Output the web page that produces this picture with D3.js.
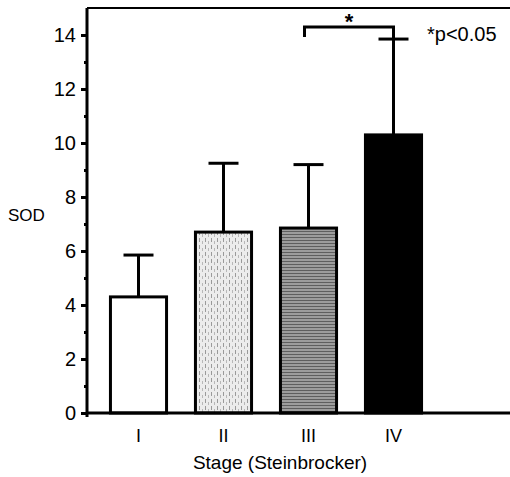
<!DOCTYPE html>
<html>
<head>
<meta charset="utf-8">
<script src="https://cdn.jsdelivr.net/npm/d3@7"></script>
<style>
  body { margin: 0; background: #fff; }
  text { font-family: "Liberation Sans", Arial, sans-serif; fill: #000; }
</style>
</head>
<body>
<div id="chart"></div>
<script>
// data
const stages = ['I', 'II', 'III', 'IV']
const sodMean = [4.3, 6.7, 6.85, 10.3]
const sodSD = [1.55, 2.55, 2.35, 3.55]
const yMajorTicks = [0, 2, 4, 6, 8, 10, 12, 14]
const yMinorTicks = [1, 3, 5, 7, 9, 11, 13]

const width = 510, height = 477
const plotLeft = 87, plotBottom = 413, plotTop = 8, plotRight = 510
const fontFamily = '"Liberation Sans", Arial, sans-serif'

const svg = d3.select('#chart').append('svg')
  .attr('width', width).attr('height', height)

const defs = svg.append('defs')
// light speckled fill for stage II
const p2 = defs.append('pattern').attr('id', 'fill2')
  .attr('patternUnits', 'userSpaceOnUse').attr('width', 6).attr('height', 7)
p2.append('rect').attr('width', 6).attr('height', 7).attr('fill', '#ececec')
p2.append('rect').attr('x', 1).attr('y', 0).attr('width', 1).attr('height', 4).attr('fill', '#9a9a9a')
p2.append('rect').attr('x', 4).attr('y', 3).attr('width', 1).attr('height', 3).attr('fill', '#b8b8b8')
// grey with horizontal lines for stage III
const p3 = defs.append('pattern').attr('id', 'fill3')
  .attr('patternUnits', 'userSpaceOnUse').attr('width', 4).attr('height', 3)
p3.append('rect').attr('width', 4).attr('height', 3).attr('fill', '#9c9c9c')
p3.append('rect').attr('y', 0).attr('width', 4).attr('height', 1).attr('fill', '#5e5e5e')

const fills = ['#ffffff', 'url(#fill2)', 'url(#fill3)', '#000000']

const y = d3.scaleLinear().domain([0, 15]).range([plotBottom, plotTop])
const x = d3.scaleBand().domain(stages).range([96, 436]).paddingInner(0.34).paddingOuter(0.17)
const cx = d => x(d) + x.bandwidth() / 2

// bars
svg.append('g').selectAll('rect')
  .data(stages)
  .join('rect')
  .attr('x', d => x(d))
  .attr('y', (d, i) => y(sodMean[i]))
  .attr('width', x.bandwidth())
  .attr('height', (d, i) => y(0) - y(sodMean[i]))
  .attr('fill', (d, i) => fills[i])
  .attr('stroke', '#000')
  .attr('stroke-width', 3)

// error bars (upper only)
const err = svg.append('g').attr('stroke', '#000').attr('stroke-width', 3)
stages.forEach((s, i) => {
  const hi = y(sodMean[i] + sodSD[i])
  err.append('line')
    .attr('x1', cx(s)).attr('x2', cx(s))
    .attr('y1', y(sodMean[i])).attr('y2', hi)
  err.append('line')
    .attr('x1', cx(s) - 15).attr('x2', cx(s) + 15)
    .attr('y1', hi).attr('y2', hi)
})

// y axis
const yAxis = svg.append('g').attr('transform', `translate(${plotLeft},0)`)
  .call(d3.axisLeft(y).tickValues(yMajorTicks).tickSize(6).tickPadding(5))
yAxis.select('.domain').remove()
yAxis.selectAll('.tick line').attr('stroke-width', 3)
yAxis.selectAll('.tick text').attr('font-size', 20).attr('font-family', fontFamily)
const yMinor = svg.append('g').attr('transform', `translate(${plotLeft},0)`)
  .call(d3.axisLeft(y).tickValues(yMinorTicks).tickSize(3).tickFormat(''))
yMinor.select('.domain').remove()
yMinor.selectAll('.tick line').attr('stroke-width', 3)

// x axis labels
const xAxis = svg.append('g').attr('transform', `translate(0,${plotBottom})`)
  .call(d3.axisBottom(x).tickSize(0).tickPadding(16))
xAxis.select('.domain').remove()
xAxis.selectAll('.tick text').attr('font-size', 18).attr('font-family', fontFamily)

// frame lines: left, bottom, top
const frame = svg.append('g').attr('stroke', '#000')
frame.append('line').attr('x1', plotLeft).attr('x2', plotLeft).attr('y1', plotTop).attr('y2', plotBottom + 4).attr('stroke-width', 3)
frame.append('line').attr('x1', plotLeft - 1).attr('x2', plotRight).attr('y1', plotBottom).attr('y2', plotBottom).attr('stroke-width', 3)
frame.append('line').attr('x1', plotLeft).attr('x2', plotRight).attr('y1', plotTop).attr('y2', plotTop).attr('stroke-width', 2)

// significance bracket III vs IV
const bx1 = cx('III') - 4, bx2 = cx('IV')
const by = 27
svg.append('path')
  .attr('d', `M${bx1},${by + 10}V${by}H${bx2}V${y(sodMean[3] + sodSD[3])}`)
  .attr('fill', 'none').attr('stroke', '#000').attr('stroke-width', 3)
svg.append('text').attr('x', (bx1 + bx2) / 2).attr('y', 29)
  .attr('text-anchor', 'middle').attr('font-size', 22).attr('font-weight', 'bold').text('*')
svg.append('text').attr('x', 427).attr('y', 41).attr('font-size', 20).text('*p<0.05')

// axis titles
svg.append('text').attr('x', 8).attr('y', 221).attr('font-size', 17).text('SOD')
svg.append('text').attr('x', 280).attr('y', 469).attr('text-anchor', 'middle')
  .attr('font-size', 19).text('Stage (Steinbrocker)')
</script>
</body>
</html>
